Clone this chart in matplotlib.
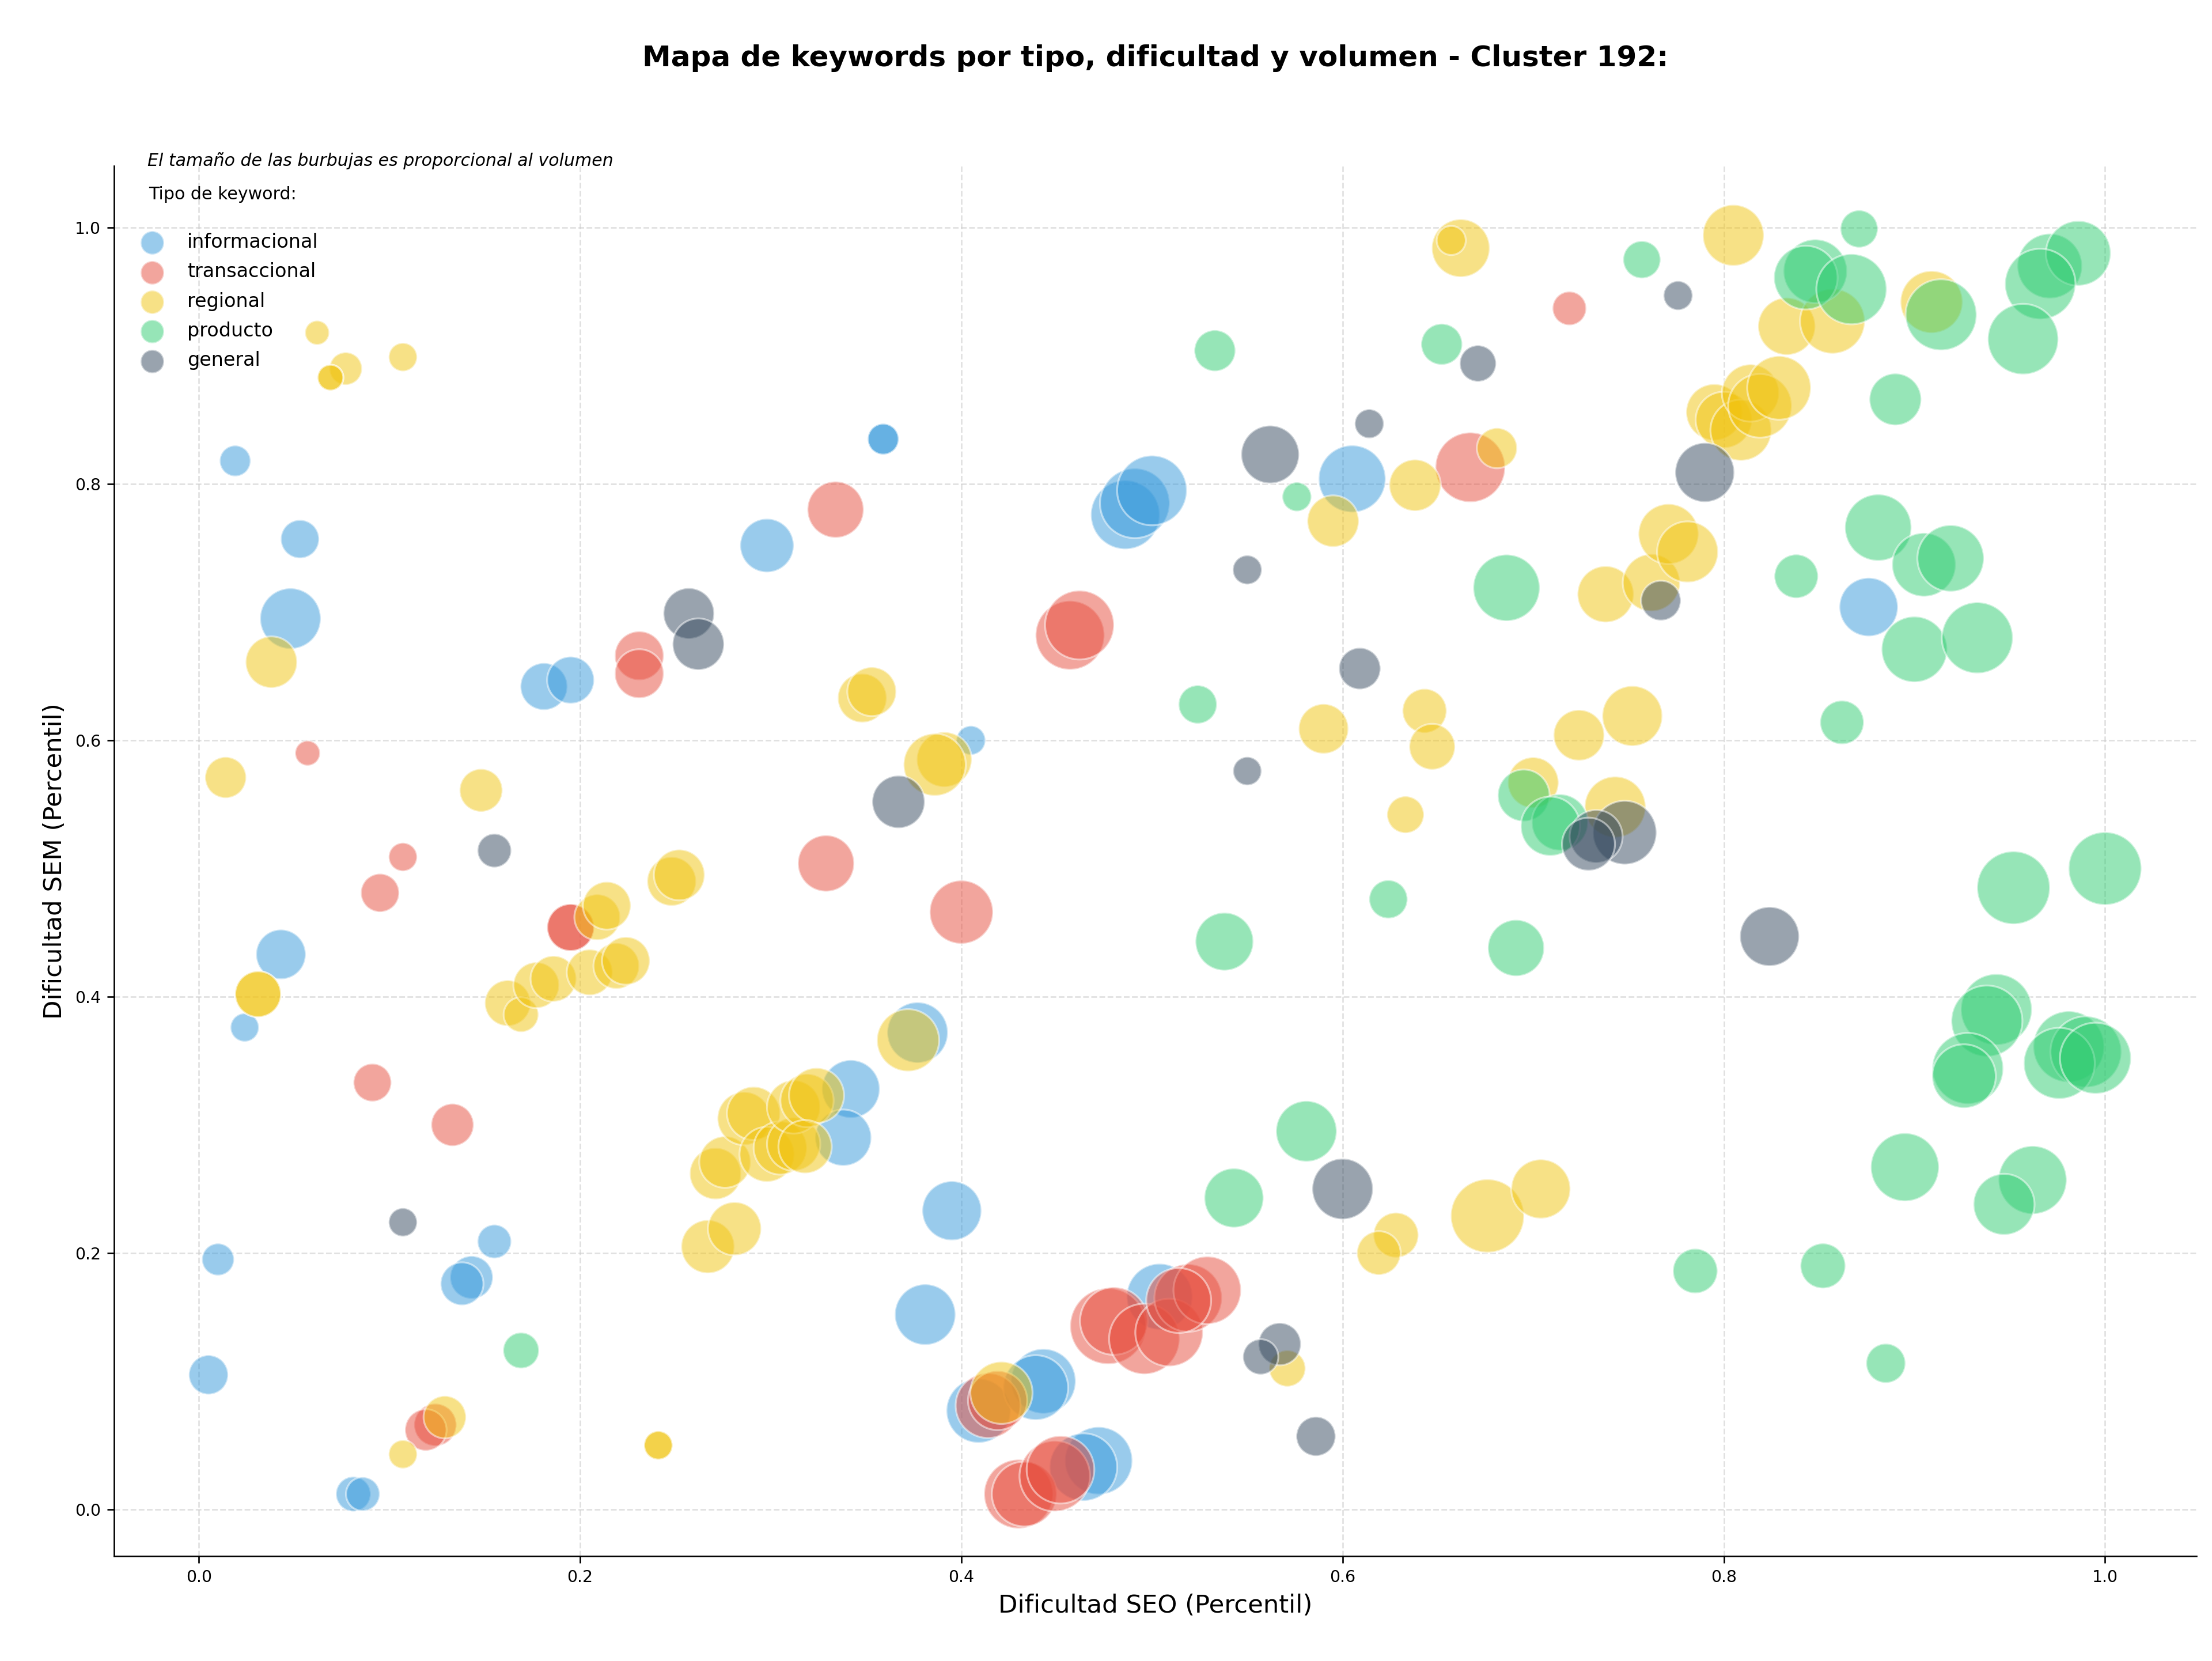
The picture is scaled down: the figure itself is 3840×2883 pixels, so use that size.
import matplotlib
matplotlib.use("Agg")
import matplotlib.pyplot as plt

# datos: dificultad SEO (x), dificultad SEM (y), volumen (area de burbuja)
tipos = ["informacional", "transaccional", "regional", "producto", "general"]
colores = ["#3498db", "#e74c3c", "#f1c40f", "#2ecc71", "#34495e"]

info_x = [0.019, 0.053, 0.048, 0.298, 0.181, 0.195, 0.359, 0.359, 0.405, 0.043, 0.024, 0.010,
          0.005, 0.081, 0.086, 0.143, 0.138, 0.155, 0.377, 0.342, 0.338, 0.395, 0.381, 0.409,
          0.443, 0.439, 0.472, 0.464, 0.486, 0.491, 0.500, 0.605, 0.876, 0.504]
info_y = [0.818, 0.757, 0.695, 0.752, 0.642, 0.647, 0.835, 0.835, 0.600, 0.433, 0.376, 0.195,
          0.105, 0.012, 0.012, 0.181, 0.176, 0.209, 0.372, 0.328, 0.290, 0.233, 0.152, 0.077,
          0.100, 0.095, 0.038, 0.033, 0.776, 0.785, 0.795, 0.804, 0.704, 0.166]
info_vol = [260, 400, 1000, 780, 600, 600, 260, 260, 230, 670, 220, 280,
            420, 330, 310, 500, 500, 310, 1000, 910, 860, 950, 1000, 1120,
            1140, 1140, 1240, 1240, 1290, 1320, 1320, 1220, 930, 1180]

trans_x = [0.334, 0.457, 0.462, 0.667, 0.719, 0.231, 0.231, 0.057, 0.107, 0.095, 0.195, 0.195,
           0.329, 0.400, 0.091, 0.133, 0.124, 0.119, 0.414, 0.419, 0.430, 0.433, 0.449, 0.452,
           0.477, 0.480, 0.496, 0.509, 0.519, 0.529, 0.514]
trans_y = [0.780, 0.682, 0.690, 0.813, 0.937, 0.666, 0.652, 0.590, 0.509, 0.481, 0.454, 0.454,
           0.504, 0.466, 0.333, 0.300, 0.066, 0.062, 0.081, 0.085, 0.012, 0.012, 0.026, 0.031,
           0.143, 0.147, 0.133, 0.138, 0.165, 0.171, 0.163]
trans_vol = [860, 1290, 1290, 1320, 310, 650, 650, 170, 220, 400, 600, 600,
             860, 1090, 390, 490, 490, 470, 1140, 950, 1290, 1140, 1350, 1240,
             1570, 1240, 1350, 1240, 1240, 1240, 1140]

reg_x = [0.062, 0.077, 0.069, 0.069, 0.107, 0.038, 0.014, 0.148, 0.209, 0.214, 0.248, 0.252,
         0.348, 0.353, 0.391, 0.386, 0.031, 0.031, 0.162, 0.169, 0.177, 0.186, 0.205, 0.219,
         0.224, 0.372, 0.129, 0.107, 0.241, 0.241, 0.267, 0.281, 0.271, 0.276, 0.286, 0.291,
         0.298, 0.305, 0.312, 0.312, 0.319, 0.324, 0.318, 0.421, 0.595, 0.638, 0.681, 0.662,
         0.657, 0.590, 0.643, 0.647, 0.633, 0.724, 0.752, 0.700, 0.743, 0.738, 0.762, 0.771,
         0.781, 0.795, 0.800, 0.809, 0.814, 0.819, 0.829, 0.805, 0.833, 0.857, 0.909, 0.571,
         0.628, 0.619, 0.676, 0.704]
reg_y = [0.918, 0.890, 0.883, 0.883, 0.899, 0.661, 0.571, 0.561, 0.462, 0.471, 0.490, 0.495,
         0.633, 0.638, 0.585, 0.581, 0.402, 0.402, 0.395, 0.386, 0.409, 0.414, 0.419, 0.424,
         0.428, 0.366, 0.072, 0.043, 0.050, 0.050, 0.205, 0.219, 0.262, 0.271, 0.305, 0.309,
         0.277, 0.282, 0.285, 0.314, 0.319, 0.323, 0.283, 0.091, 0.771, 0.799, 0.828, 0.984,
         0.990, 0.609, 0.623, 0.595, 0.542, 0.604, 0.619, 0.567, 0.548, 0.714, 0.723, 0.761,
         0.747, 0.856, 0.850, 0.842, 0.871, 0.861, 0.875, 0.994, 0.923, 0.927, 0.942, 0.110,
         0.214, 0.200, 0.229, 0.250]
reg_vol = [160, 290, 180, 180, 220, 720, 460, 500, 570, 620, 650, 700,
           650, 650, 820, 1050, 570, 570, 570, 330, 570, 570, 570, 570,
           620, 1050, 490, 220, 220, 220, 770, 770, 720, 720, 770, 770,
           820, 770, 770, 770, 770, 820, 770, 1050, 720, 720, 440, 910,
           230, 670, 530, 570, 370, 700, 980, 700, 1010, 860, 890, 980,
           1010, 860, 860, 1010, 890, 1100, 1100, 1010, 890, 1140, 1050, 360,
           550, 520, 1460, 950]

prod_x = [0.533, 0.652, 0.576, 0.757, 0.871, 0.848, 0.843, 0.867, 0.914, 0.971, 0.986, 0.966,
          0.957, 0.890, 0.686, 0.838, 0.881, 0.905, 0.919, 0.900, 0.933, 0.862, 0.524, 0.695,
          0.714, 0.709, 0.624, 0.538, 0.691, 0.952, 1.000, 0.943, 0.938, 0.928, 0.926, 0.981,
          0.990, 0.976, 0.995, 0.895, 0.962, 0.947, 0.785, 0.852, 0.885, 0.581, 0.543, 0.169]
prod_y = [0.904, 0.909, 0.790, 0.975, 0.999, 0.966, 0.961, 0.952, 0.932, 0.970, 0.980, 0.956,
          0.913, 0.866, 0.719, 0.728, 0.766, 0.737, 0.742, 0.671, 0.680, 0.614, 0.628, 0.557,
          0.536, 0.533, 0.476, 0.443, 0.438, 0.485, 0.500, 0.390, 0.381, 0.344, 0.338, 0.361,
          0.357, 0.348, 0.352, 0.267, 0.257, 0.238, 0.186, 0.190, 0.114, 0.295, 0.243, 0.124]
prod_vol = [460, 460, 230, 380, 380, 1100, 1100, 1340, 1370, 1140, 1140, 1350,
            1350, 730, 1200, 520, 1200, 1100, 1200, 1170, 1370, 520, 400, 730,
            860, 950, 400, 910, 860, 1440, 1440, 1370, 1370, 1370, 1100, 1370,
            1370, 1370, 1370, 1260, 1260, 1010, 540, 550, 420, 1000, 950, 350]

gen_x = [0.257, 0.262, 0.155, 0.367, 0.107, 0.562, 0.614, 0.671, 0.776, 0.790, 0.550, 0.609,
         0.550, 0.767, 0.748, 0.733, 0.729, 0.824, 0.600, 0.567, 0.557, 0.586]
gen_y = [0.699, 0.675, 0.514, 0.552, 0.224, 0.823, 0.847, 0.894, 0.947, 0.809, 0.733, 0.656,
         0.576, 0.709, 0.528, 0.525, 0.519, 0.447, 0.250, 0.129, 0.119, 0.057]
gen_vol = [700, 720, 310, 750, 220, 910, 230, 360, 230, 950, 230, 470,
           220, 430, 1100, 760, 760, 950, 1000, 490, 340, 420]

xs = [info_x, trans_x, reg_x, prod_x, gen_x]
ys = [info_y, trans_y, reg_y, prod_y, gen_y]
vols = [info_vol, trans_vol, reg_vol, prod_vol, gen_vol]

fig = plt.figure(figsize=(16, 12.0125), dpi=240)
ax = fig.add_axes([0.0516, 0.0631, 0.9414, 0.8369])

for tipo, col, x, y, v in zip(tipos, colores, xs, ys, vols):
    ax.scatter(x, y, s=v, c=col, alpha=0.5, edgecolors="white", linewidths=1.0, zorder=2)

ax.set_xlim(-0.0445, 1.048)
ax.set_ylim(-0.0365, 1.048)
ax.grid(True, linestyle="--", color="#cccccc", alpha=0.6, linewidth=0.8, zorder=0)
ax.set_axisbelow(True)
ax.spines["top"].set_visible(False)
ax.spines["right"].set_visible(False)
ax.tick_params(labelsize=8.5)

ax.set_xlabel("Dificultad SEO (Percentil)", fontsize=13)
ax.set_ylabel("Dificultad SEM (Percentil)", fontsize=13)
ax.set_title("Mapa de keywords por tipo, dificultad y volumen - Cluster 192:",
             fontsize=15, fontweight="bold", y=1.0, pad=0)
ax.title.set_position((0.5, 1.072))

ax.text(0.016, 1.004, "El tamaño de las burbujas es proporcional al volumen",
        transform=ax.transAxes, fontsize=9, style="italic", va="center")

handles = [ax.scatter([], [], s=150, c=col, alpha=0.5, edgecolors="white", label=t)
           for t, col in zip(tipos, colores)]
leg = ax.legend(handles=handles, title="Tipo de keyword:\n", loc="upper left",
                bbox_to_anchor=(0.0084, 0.998), frameon=False, fontsize=10,
                title_fontsize=9, alignment="left", handlelength=0.3,
                handletextpad=1.7, labelspacing=0.55)

fig.savefig("out.png", dpi=240)
